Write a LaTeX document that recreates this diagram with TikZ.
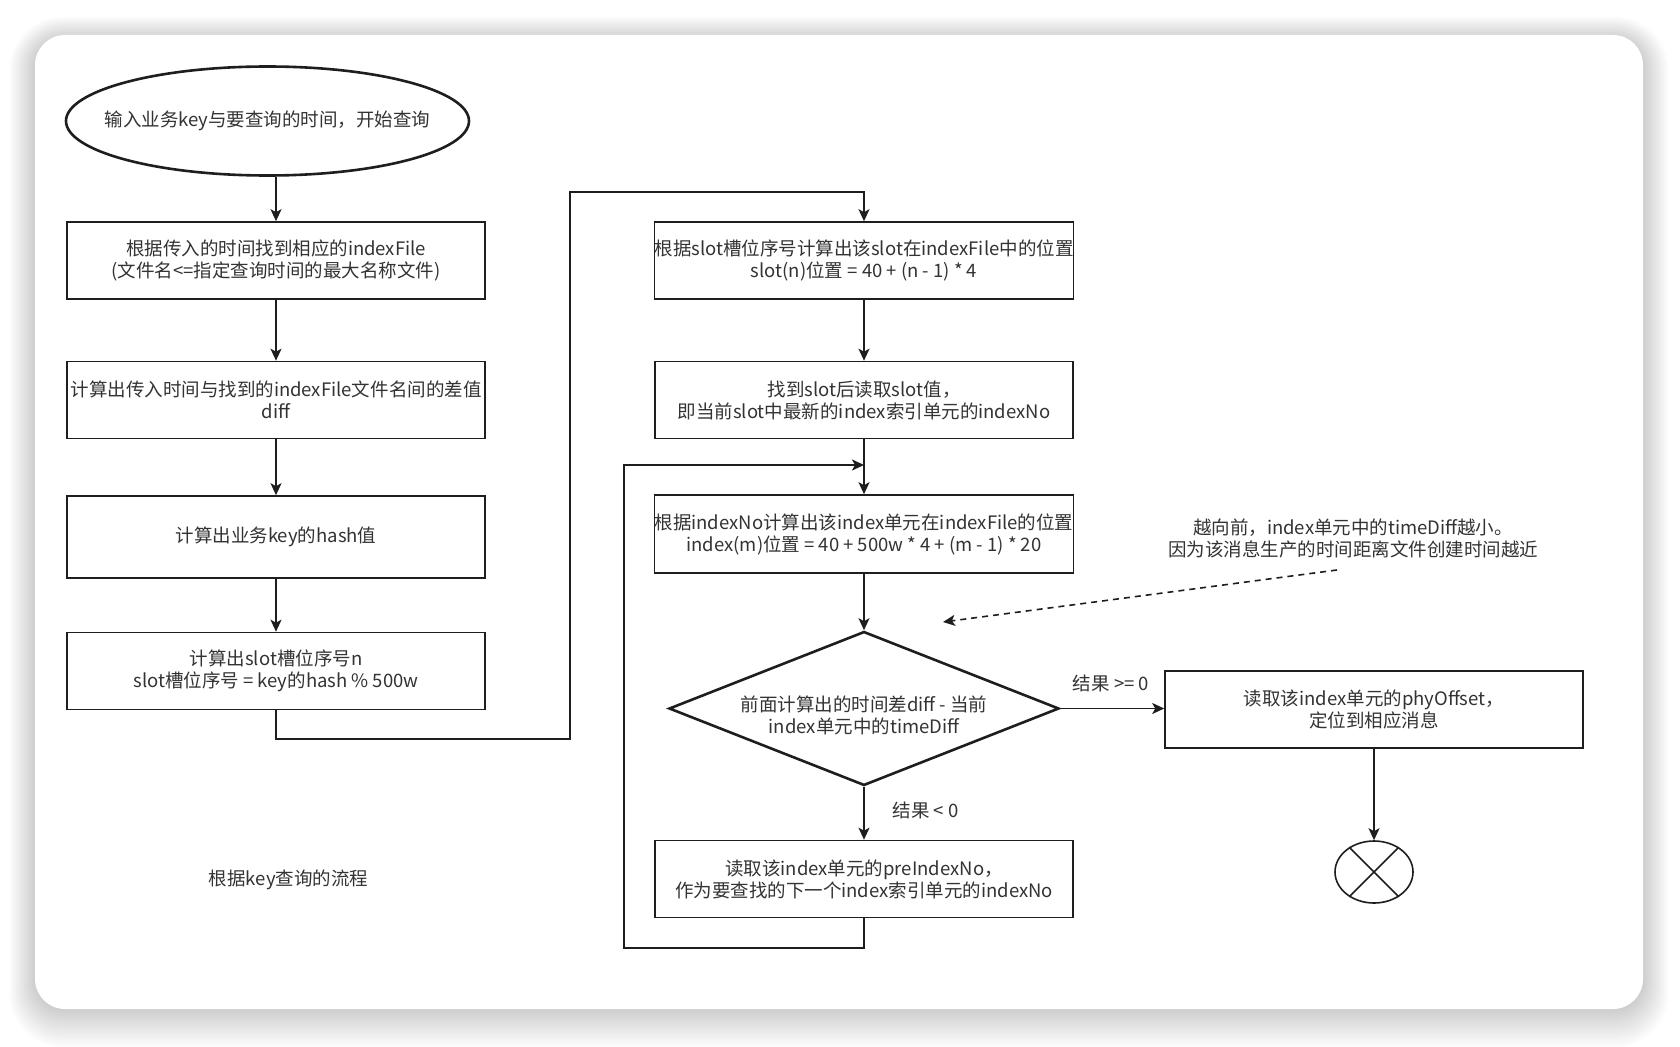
\documentclass[tikz,border=0pt]{standalone}
\usepackage{fontspec}
\setmainfont{Noto Sans CJK SC}
\usetikzlibrary{arrows.meta,shapes.geometric}
\definecolor{txt}{HTML}{333333}
\definecolor{ln}{HTML}{1E1E1E}
\begin{document}
\begin{tikzpicture}[x=1pt,y=-1pt,
  every node/.style={text=txt, font=\fontsize{18.5}{22}\selectfont},
  box/.style={draw=ln, line width=1.6pt, minimum width=418pt, minimum height=77pt, inner sep=0pt, align=center},
  arr/.style={draw=ln, line width=1.8pt, -{Stealth[length=12pt,width=11pt,inset=3pt]}},
  lab/.style={inner sep=0pt, align=center},
]
\useasboundingbox (0,0) rectangle (1680,1046);
\fill[white] (0,0) rectangle (1680,1046);
% soft shadow of the card
\foreach \k in {1,...,16}{
  \pgfmathsetmacro{\rr}{30+\k*1.5}
  \fill[black, opacity=0.011, rounded corners=\rr pt]
    (35-\k*1.6, 35-\k*1.4+4) rectangle (1643+\k*1.6, 1009+\k*2.4);
}
\fill[white, rounded corners=30pt] (35,35) rectangle (1643,1009);

% left column
\node[ellipse, draw=ln, line width=2.6pt, minimum width=403pt, minimum height=109pt, inner sep=0pt] (start) at (267.5,121) {};
\node[lab] (startt) at (267.5,121) {输入业务key与要查询的时间，开始查询};
\node[box] (b1) at (276,260.5) {根据传入的时间找到相应的indexFile\\(文件名<=指定查询时间的最大名称文件)};
\node[box] (b2) at (276,400) {计算出传入时间与找到的indexFile文件名间的差值\\diff};
\node[box, minimum height=82pt] (b3) at (276,537) {计算出业务key的hash值};
\node[box] (b4) at (276,671) {计算出slot槽位序号n\\slot槽位序号 = key的hash \% 500w};

% middle column
\node[box] (b5) at (864,260.5) {根据slot槽位序号计算出该slot在indexFile中的位置\\slot(n)位置 = 40 + (n - 1) * 4};
\node[box] (b6) at (864,400) {找到slot后读取slot值，\\即当前slot中最新的index索引单元的indexNo};
\node[box, minimum height=78pt] (b7) at (864,534) {根据indexNo计算出该index单元在indexFile的位置\\index(m)位置 = 40 + 500w * 4 + (m - 1) * 20};
\node[diamond, draw=ln, line width=2.6pt, minimum width=390pt, minimum height=154pt, inner sep=0pt] (dia) at (864,708.5) {};
\node[lab] (diat) at (864,715) {前面计算出的时间差diff - 当前\\index单元中的timeDiff};
\node[box] (b8) at (864,879) {读取该index单元的preIndexNo，\\作为要查找的下一个index索引单元的indexNo};

% right column
\node[box] (b9) at (1374,709.5) {读取该index单元的phyOffset，\\定位到相应消息};
\node[ellipse, draw=ln, line width=1.6pt, minimum width=78pt, minimum height=62pt, inner sep=0pt] (endX) at (1374,872) {};
\draw[ln, line width=1.6pt] (endX.45) -- (endX.225) (endX.135) -- (endX.315);

% texts
\node[lab] (note) at (1353,538) {越向前，index单元中的timeDiff越小。\\因为该消息生产的时间距离文件创建时间越近};
\node[lab] (title) at (288.5,880) {根据key查询的流程};
\node[lab] (lge) at (1111,683) {结果 >= 0};
\node[lab] (llt) at (925.5,810.5) {结果 < 0};

% connectors
\coordinate (w1) at (570,739);
\coordinate (w2) at (570,192);
\coordinate (j) at (864,465);
\coordinate (w3) at (624,948);
\coordinate (nA) at (1337,570);
\coordinate (nB) at (943,622);

\draw[arr] (start.south -| b1.north) -- (b1.north);
\draw[arr] (b1) -- (b2);
\draw[arr] (b2) -- (b3);
\draw[arr] (b3) -- (b4);
\draw[arr] (b4.south) |- (w1) -- (w2) -| (b5.north);
\draw[arr] (b5) -- (b6);
\draw[arr] (b6) -- (b7);
\draw[arr] (b8.south) |- (w3) |- (j);
\draw[arr] (b7) -- (dia);
\draw[arr] (dia) -- (b8);
\draw[arr] (dia.east) -- (dia.east -| b9.west);
\draw[arr] (b9) -- (endX);
\draw[arr, line width=1.6pt, dash pattern=on 6pt off 5pt] (nA) -- (nB);
\end{tikzpicture}
\end{document}
